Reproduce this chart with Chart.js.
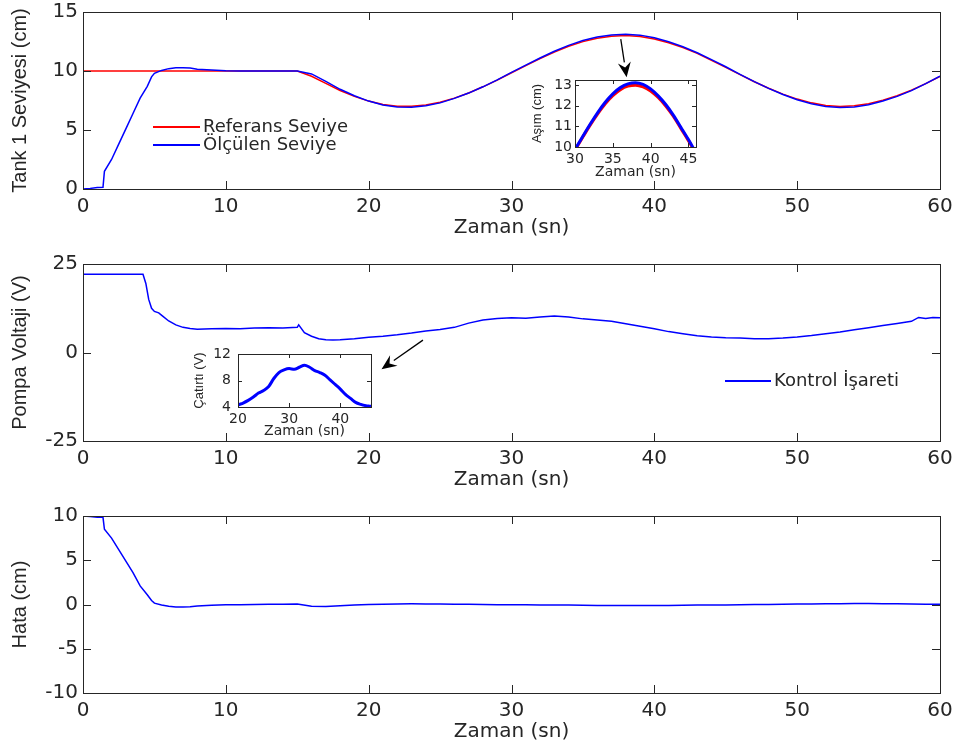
<!DOCTYPE html>
<html>
<head>
<meta charset="utf-8">
<script src="https://cdn.jsdelivr.net/npm/chart.js@4/dist/chart.umd.min.js"></script>
<style>
  body { margin: 0; background: #fff; }
  #kap { position: relative; width: 963px; height: 749px; }
  canvas { position: absolute; }
</style>
</head>
<body>
<div id="kap">
  <canvas id="seviye" width="963" height="240" style="left:0;top:0"></canvas>
  <canvas id="pompa" width="963" height="240" style="left:0;top:252px"></canvas>
  <canvas id="hata" width="963" height="240" style="left:0;top:504px"></canvas>
  <canvas id="asim" width="195" height="115" style="left:515px;top:70px"></canvas>
  <canvas id="catirti" width="200" height="100" style="left:185px;top:344px"></canvas>
</div>
<script>
// * zaman (sn) - seviye ve hata grafikleri icin
const zamanSeviye = [0, 0.5, 1, 1.4, 1.5, 2, 2.5, 3, 3.5, 4, 4.5, 4.8, 5, 5.5, 6, 6.5, 7, 7.5, 8,
  9, 10, 11, 12, 13, 14, 15, 16, 17, 18, 19, 20, 21, 22, 23, 24, 25, 26, 27, 28, 29, 30,
  31, 32, 33, 34, 35, 36, 37, 38, 39, 40, 41, 42, 43, 44, 45, 46, 47, 48, 49, 50,
  51, 52, 53, 54, 55, 56, 57, 58, 59, 60]

const referansSeviye = [10, 10, 10, 10, 10, 10, 10, 10, 10, 10, 10, 10, 10, 10, 10, 10, 10, 10, 10,
  10, 10, 10, 10, 10, 10, 10,
  9.55, 8.95, 8.35, 7.85, 7.45, 7.17, 7.02, 7.01, 7.12, 7.35,
  7.70, 8.14, 8.66, 9.23, 9.85, 10.46, 11.06, 11.61, 12.10, 12.49,
  12.78, 12.95, 13.00, 12.92, 12.72, 12.40, 11.99, 11.49, 10.90, 10.31,
  9.69, 9.09, 8.54, 8.04, 7.62, 7.30, 7.08, 7.00, 7.05, 7.22,
  7.53, 7.90, 8.38, 8.93, 9.55]

const olculenSeviye = [0, 0.05, 0.12, 0.15, 1.5, 2.5, 3.8, 5.1, 6.4, 7.7, 8.7, 9.5, 9.8, 10.05, 10.2, 10.27, 10.28, 10.25, 10.15,
  10.08, 10.03, 10.01, 10.0, 10.0, 10.0, 10.0,
  9.75, 9.12, 8.45, 7.9, 7.45, 7.12, 6.95, 6.93, 7.05, 7.30,
  7.68, 8.13, 8.66, 9.25, 9.88, 10.5, 11.1, 11.67, 12.17, 12.58,
  12.88, 13.06, 13.12, 13.04, 12.82, 12.48, 12.06, 11.55, 10.96, 10.36,
  9.72, 9.10, 8.53, 8.01, 7.57, 7.23, 7.00, 6.91, 6.95, 7.14,
  7.46, 7.85, 8.34, 8.93, 9.56]

const hataDegeri = [10, 9.95, 9.85, 9.85, 8.5, 7.5, 6.2, 4.9, 3.6, 2.1, 1.1, 0.45, 0.15, -0.05, -0.2, -0.27, -0.28, -0.25, -0.17,
  -0.09, -0.04, -0.02, 0.0, 0.02, 0.03, 0.05,
  -0.2, -0.22, -0.15, -0.07, 0.0, 0.04, 0.06, 0.08, 0.07, 0.05,
  0.03, 0.02, 0.0, -0.02, -0.03, -0.04, -0.05, -0.06, -0.07, -0.09,
  -0.1, -0.11, -0.12, -0.12, -0.12, -0.1, -0.08, -0.06, -0.05, -0.05,
  -0.03, -0.01, 0.01, 0.03, 0.05, 0.07, 0.08, 0.09, 0.1, 0.1,
  0.09, 0.08, 0.06, 0.04, 0.02]

// * zaman (sn) - pompa voltaji icin
const zamanKontrol = [0, 4.2, 4.4, 4.6, 4.8, 5, 5.3, 5.6, 6, 6.5, 7, 7.5, 8, 9, 10, 11, 12, 13, 14, 15,
  15.1, 15.5, 16, 16.5, 17, 17.5, 18, 19, 20,
  21, 22, 23, 24, 25, 26, 27, 28, 29, 30, 31, 32, 33, 34, 35, 36, 37, 38, 39, 40,
  41, 42, 43, 44, 45, 46, 47, 48, 49, 50, 51, 52, 53, 54, 55, 56, 57, 58,
  58.5, 59, 59.5, 60]

const kontrolIsareti = [22.1, 22.1, 19.5, 15.0, 12.5, 11.6, 11.2, 10.2, 8.9, 7.8, 7.1, 6.8, 6.6, 6.7, 6.8, 6.7, 6.9, 7.0, 6.9, 7.1,
  7.8, 5.6, 4.6, 3.9, 3.6, 3.5, 3.6, 3.9, 4.3,
  4.6, 5.0, 5.5, 6.1, 6.5, 7.1, 8.3, 9.2, 9.6, 9.8,
  9.7, 10.0, 10.3, 10.0, 9.5, 9.2, 8.8, 8.1, 7.4, 6.7,
  5.9, 5.3, 4.7, 4.4, 4.2, 4.1, 3.9, 3.9, 4.1, 4.4,
  4.8, 5.3, 5.8, 6.4, 7.0, 7.6, 8.2, 8.8,
  9.9, 9.6, 9.9, 9.8]

// * eksen tikleri
const zamanTikleri = [0, 10, 20, 30, 40, 50, 60]
const seviyeTikleri = [0, 5, 10, 15]
const pompaTikleri = [-25, 0, 25]
const hataTikleri = [-10, -5, 0, 5, 10]

const yaziRengi = "#262626"
Chart.defaults.font.family = "'DejaVu Sans', sans-serif"
Chart.defaults.color = yaziRengi

const noktalar = (xs, ys) => xs.map((x, i) => ({ x: x, y: ys[i] }))

//! kutu + iceri bakan tikler (matlab gibi)
const kutu = {
  id: "kutu",
  beforeDraw(chart, args, opts) {
    if (!opts.beyaz) return
    const a = chart.chartArea
    chart.ctx.save()
    chart.ctx.fillStyle = "#fff"
    chart.ctx.fillRect(a.left, a.top, a.width, a.height)
    chart.ctx.restore()
  },
  afterDraw(chart, args, opts) {
    const { ctx, chartArea: a, scales: { x, y } } = chart
    const L = opts.tik || 8
    ctx.save()
    ctx.strokeStyle = yaziRengi
    ctx.lineWidth = 1
    ctx.beginPath()
    x.ticks.forEach(t => {
      const px = Math.round(x.getPixelForValue(t.value)) + 0.5
      ctx.moveTo(px, a.bottom); ctx.lineTo(px, a.bottom - L)
      ctx.moveTo(px, a.top); ctx.lineTo(px, a.top + L)
    })
    y.ticks.forEach(t => {
      const py = Math.round(y.getPixelForValue(t.value)) + 0.5
      ctx.moveTo(a.left, py); ctx.lineTo(a.left + L, py)
      ctx.moveTo(a.right, py); ctx.lineTo(a.right - L, py)
    })
    ctx.stroke()
    ctx.strokeRect(Math.round(a.left) + 0.5, Math.round(a.top) + 0.5, Math.round(a.width), Math.round(a.height))
    ctx.restore()
  }
}

//* cercevesiz lejant
const lejant = {
  id: "lejant",
  afterDraw(chart, args, opts) {
    if (opts.x === undefined) return
    const ctx = chart.ctx
    ctx.save()
    ctx.font = "18px 'DejaVu Sans'"
    ctx.textBaseline = "middle"
    chart.data.datasets.forEach((ds, i) => {
      const yy = opts.y + i * opts.dy
      ctx.strokeStyle = ds.borderColor
      ctx.lineWidth = 2
      ctx.beginPath()
      ctx.moveTo(opts.x, yy); ctx.lineTo(opts.x + opts.uzunluk, yy)
      ctx.stroke()
      ctx.fillStyle = yaziRengi
      ctx.fillText(ds.label, opts.x + opts.uzunluk + 3, yy)
    })
    ctx.restore()
  }
}

//* ok isareti (veri koordinatinda)
const ok = {
  id: "ok",
  afterDraw(chart, args, opts) {
    if (!opts.bas) return
    const { ctx, scales: { x, y } } = chart
    const x1 = x.getPixelForValue(opts.bas.x), y1 = y.getPixelForValue(opts.bas.y)
    const x2 = x.getPixelForValue(opts.uc.x), y2 = y.getPixelForValue(opts.uc.y)
    const aci = Math.atan2(y2 - y1, x2 - x1)
    const boy = 15, gen = 6.5
    const bx = x2 - boy * Math.cos(aci), by = y2 - boy * Math.sin(aci)
    ctx.save()
    ctx.strokeStyle = "#000"
    ctx.fillStyle = "#000"
    ctx.lineWidth = 1.3
    ctx.beginPath()
    ctx.moveTo(x1, y1); ctx.lineTo(bx, by)
    ctx.stroke()
    ctx.beginPath()
    ctx.moveTo(x2, y2)
    ctx.lineTo(bx + gen * Math.sin(aci), by - gen * Math.cos(aci))
    ctx.lineTo(bx + 0.35 * boy * Math.cos(aci), by + 0.35 * boy * Math.sin(aci))
    ctx.lineTo(bx - gen * Math.sin(aci), by + gen * Math.cos(aci))
    ctx.closePath()
    ctx.fill()
    ctx.restore()
  }
}

function cizgi(etiket, xs, ys, renk, kalinlik, sira, yumusak) {
  const ds = {
    label: etiket,
    data: noktalar(xs, ys),
    borderColor: renk,
    borderWidth: kalinlik,
    pointRadius: 0,
    tension: 0,
    clip: 0,
    order: sira
  }
  if (yumusak) ds.cubicInterpolationMode = "monotone" // ic grafiklerde egri yumusak dursun
  return ds
}

const sabitTik = (liste) => (scale) => { scale.ticks = liste.map(v => ({ value: v })) }

// etiket tasmasi yuzunden eklenen paddingi sifirla
const sabitBoy = (ozellik, deger) => (s) => {
  s[ozellik] = deger
  s.paddingTop = 0; s.paddingBottom = 0; s.paddingLeft = 0; s.paddingRight = 0
}

function grafik(id, datasets, ayar) {
  return new Chart(document.getElementById(id), {
    type: "line",
    data: { datasets: datasets },
    options: {
      responsive: false,
      animation: false,
      layout: { autoPadding: false, padding: { top: ayar.ust, right: ayar.sag, left: 0, bottom: 0 } },
      plugins: {
        legend: { display: false },
        tooltip: { enabled: false },
        kutu: { tik: ayar.tik, beyaz: ayar.beyaz },
        lejant: ayar.lejant || {},
        ok: ayar.ok || {}
      },
      scales: {
        x: {
          type: "linear",
          min: ayar.xMin, max: ayar.xMax,
          afterFit: sabitBoy("height", ayar.xYukseklik),
          afterBuildTicks: sabitTik(ayar.xTik),
          grid: { display: false, drawTicks: false },
          border: { display: false },
          ticks: { padding: ayar.xPad, font: { size: ayar.tikBoyut }, color: yaziRengi, maxRotation: 0, autoSkip: false },
          title: { display: true, text: "Zaman (sn)", font: { size: ayar.baslikBoyut }, color: yaziRengi, padding: { top: 0, bottom: ayar.xBaslikPad } }
        },
        y: {
          type: "linear",
          min: ayar.yMin, max: ayar.yMax,
          afterFit: sabitBoy("width", ayar.yGenislik),
          afterBuildTicks: sabitTik(ayar.yTik),
          grid: { display: false, drawTicks: false },
          border: { display: false },
          ticks: { padding: ayar.yPad, font: { size: ayar.tikBoyut }, color: yaziRengi, autoSkip: false },
          title: { display: true, text: ayar.yBaslik, font: { family: "'Liberation Sans', Arial, sans-serif", size: ayar.yBaslikBoyut }, color: yaziRengi, padding: { top: ayar.yBaslikPad, bottom: 0 } }
        }
      }
    },
    plugins: [kutu, lejant, ok]
  })
}

const anaAyar = {
  ust: 12, sag: 23, tik: 8, xMin: 0, xMax: 60, xTik: zamanTikleri, xYukseklik: 51, xPad: 6, xBaslikPad: 0,
  yGenislik: 83, yPad: 5, tikBoyut: 20, baslikBoyut: 20, yBaslikBoyut: 20, yBaslikPad: 8
}

const seviyeChart = grafik("seviye", [
  cizgi("Referans Seviye", zamanSeviye, referansSeviye, "rgb(255,0,0)", 1.5, 1),
  cizgi("Ölçülen Seviye", zamanSeviye, olculenSeviye, "rgb(0,0,255)", 1.5, 0)
], Object.assign({}, anaAyar, {
  yMin: 0, yMax: 15, yTik: seviyeTikleri, yBaslik: "Tank 1 Seviyesi (cm)",
  lejant: { x: 153, y: 127, dy: 18, uzunluk: 47 },
  ok: { bas: { x: 37.65, y: 12.7 }, uc: { x: 38.06, y: 9.47 } }
}))

const pompaChart = grafik("pompa", [
  cizgi("Kontrol İşareti", zamanKontrol, kontrolIsareti, "rgb(0,0,255)", 1.5, 0)
], Object.assign({}, anaAyar, {
  yMin: -25, yMax: 25, yTik: pompaTikleri, yBaslik: "Pompa Voltaji (V)",
  lejant: { x: 725, y: 129, dy: 18, uzunluk: 46 },
  ok: { bas: { x: 23.8, y: 3.5 }, uc: { x: 20.9, y: -4.7 } }
}))

const hataChart = grafik("hata", [
  cizgi("Hata", zamanSeviye, hataDegeri, "rgb(0,0,255)", 1.5, 0)
], Object.assign({}, anaAyar, {
  yMin: -10, yMax: 10, yTik: hataTikleri, yBaslik: "Hata (cm)"
}))

//* ic grafik - asim
const asimChart = grafik("asim", [
  cizgi("Referans Seviye", zamanSeviye, referansSeviye, "rgb(255,0,0)", 3, 1, true),
  cizgi("Ölçülen Seviye", zamanSeviye, olculenSeviye, "rgb(0,0,255)", 3, 0, true)
], {
  ust: 10, sag: 14, tik: 4, beyaz: true, xMin: 30, xMax: 46, xTik: [30, 35, 40, 45], xYukseklik: 38, xPad: 4, xBaslikPad: 4,
  yMin: 10, yMax: 13.25, yTik: [10, 11, 12, 13], yGenislik: 60, yPad: 3,
  tikBoyut: 14, baslikBoyut: 14, yBaslikBoyut: 13, yBaslikPad: 15, yBaslik: "Aşım (cm)"
})

//* ic grafik - catirti
const catirtiChart = grafik("catirti", [
  cizgi("Kontrol İşareti", zamanKontrol, kontrolIsareti, "rgb(0,0,255)", 3, 0, true)
], {
  ust: 10, sag: 14, tik: 4, beyaz: true, xMin: 20, xMax: 46, xTik: [20, 30, 40], xYukseklik: 37, xPad: 4, xBaslikPad: 4,
  yMin: 4, yMax: 12, yTik: [4, 8, 12], yGenislik: 53, yPad: 7,
  tikBoyut: 14, baslikBoyut: 14, yBaslikBoyut: 13, yBaslikPad: 7, yBaslik: "Çatırtı (V)"
})
</script>
</body>
</html>
